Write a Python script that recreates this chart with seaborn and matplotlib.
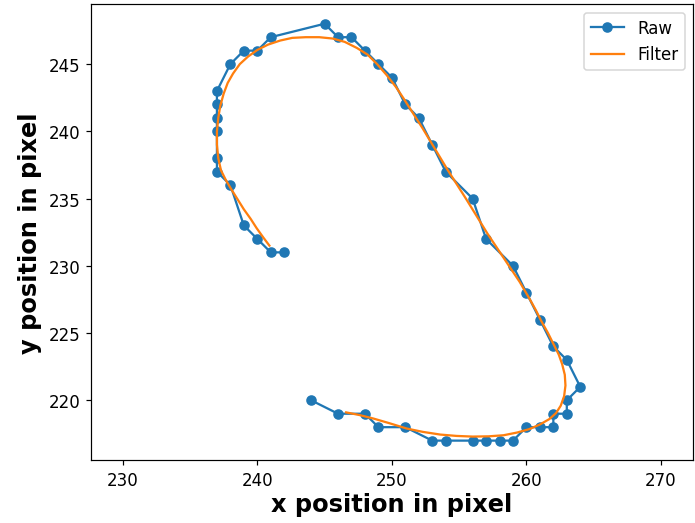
import matplotlib
matplotlib.use("Agg")
import matplotlib.pyplot as plt
import seaborn as sns
import pandas as pd

# Raw measured positions (in path order)
raw_x = [244, 246, 248, 249, 251, 253, 254, 256, 257, 258, 259, 260, 261, 262, 262, 263, 263, 264,
         263, 262, 261, 260, 259, 257, 256, 254, 253, 252, 251, 250, 249, 248, 247, 246, 245,
         241, 240, 239, 238, 237, 237, 237, 237, 237, 237, 238, 239, 240, 241, 242]
raw_y = [220, 219, 219, 218, 218, 217, 217, 217, 217, 217, 217, 218, 218, 218, 219, 219, 220, 221,
         223, 224, 226, 228, 230, 232, 235, 237, 239, 241, 242, 244, 245, 246, 247, 247, 248,
         247, 246, 246, 245, 243, 242, 241, 240, 238, 237, 236, 233, 232, 231, 231]

# Filtered trajectory
filt_x = [246.6, 247.6, 248.6, 249.8, 251.1, 252.3, 253.6, 254.8, 256.0, 257.2, 258.3, 259.3,
          260.2, 261.0, 261.7, 262.2, 262.55, 262.8, 262.9, 262.85, 262.65, 262.4, 262.05, 261.6,
          261.1, 260.7, 260.2, 259.5, 258.7, 257.9, 257.1, 256.3, 255.5, 254.8, 254.1, 253.5,
          252.9, 252.3, 251.6, 250.9, 250.3, 249.6, 248.9, 248.2, 247.4, 246.5, 245.6, 244.6,
          243.6, 242.6, 241.7, 240.8, 240.0, 239.3, 238.7, 238.2, 237.8, 237.5, 237.25, 237.1,
          237.0, 237.0, 237.1, 237.3, 237.65, 238.0, 238.5, 239.0, 239.5, 239.95, 240.45, 240.9]
filt_y = [219.1, 218.9, 218.65, 218.3, 217.9, 217.65, 217.45, 217.35, 217.3, 217.32, 217.4, 217.6,
          217.85, 218.2, 218.6, 219.05, 219.6, 220.3, 221.1, 221.9, 222.7, 223.4, 224.1, 225.0,
          225.9, 226.7, 227.6, 228.8, 230.0, 231.2, 232.4, 233.7, 235.0, 236.1, 237.2, 238.2,
          239.2, 240.2, 241.3, 242.4, 243.3, 244.2, 245.0, 245.7, 246.2, 246.65, 246.9, 247.0,
          247.0, 246.95, 246.75, 246.45, 246.05, 245.55, 245.0, 244.3, 243.6, 242.8, 241.9, 241.0,
          240.0, 239.0, 238.0, 237.1, 236.4, 235.8, 235.0, 234.2, 233.5, 232.8, 232.1, 231.5]

x_ticks = [230, 240, 250, 260, 270]
y_ticks = [220, 225, 230, 235, 240, 245]

raw_df = pd.DataFrame({"x": raw_x, "y": raw_y})
filt_df = pd.DataFrame({"x": filt_x, "y": filt_y})

fig = plt.figure(figsize=(6.4, 4.825), dpi=108.6)
ax = fig.add_axes([0.1305, 0.120, 0.867, 0.870])

sns.lineplot(data=raw_df, x="x", y="y", sort=False, estimator=None, marker="o",
             color="C0", markeredgecolor="C0", markeredgewidth=1, markersize=6,
             label="Raw", ax=ax)
sns.lineplot(data=filt_df, x="x", y="y", sort=False, estimator=None,
             color="C1", label="Filter", ax=ax)

ax.set_xlim(227.62, 272.4)
ax.set_ylim(215.55, 249.45)
ax.set_xticks(x_ticks)
ax.set_yticks(y_ticks)
ax.tick_params(labelsize=11)
ax.set_xlabel("x position in pixel", fontsize=16, fontweight="bold", labelpad=2)
ax.set_ylabel("y position in pixel", fontsize=16, fontweight="bold")
ax.legend(loc="upper right", fontsize=11)

fig.savefig("out.png", dpi=108.6)
